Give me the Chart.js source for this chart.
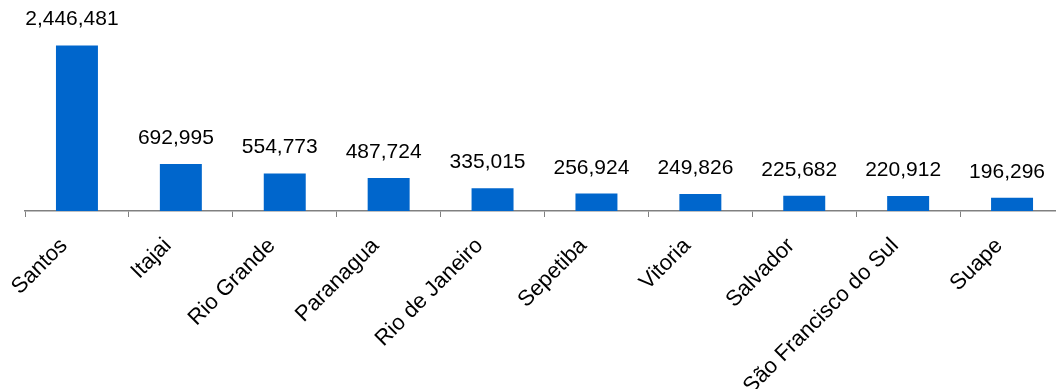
<!DOCTYPE html>
<html>
<head>
<meta charset="utf-8">
<script src="https://cdn.jsdelivr.net/npm/chart.js@4/dist/chart.umd.min.js"></script>
<style>
    html, body { margin: 0; padding: 0; background: #fff; overflow: hidden; }
    #wrap { position: absolute; left: 0; top: 0; width: 1072px; height: 389px; }
</style>
</head>
<body>
<div id="wrap"><canvas id="bar_chart"></canvas></div>
<script>
var ports = ["Santos", "Itajai", "Rio Grande", "Paranagua", "Rio de Janeiro", "Sepetiba", "Vitoria", "Salvador", "São Francisco do Sul", "Suape"];
var containers = [2446481, 692995, 554773, 487724, 335015, 256924, 249826, 225682, 220912, 196296];

var FONT = "Liberation Sans, Arial, sans-serif";

// prints the value above each bar
var valueLabels = {
    id: 'valueLabels',
    afterDatasetsDraw: function (chart) {
        var ctx = chart.ctx;
        var meta = chart.getDatasetMeta(0);
        ctx.save();
        ctx.font = "21px " + FONT;
        ctx.fillStyle = '#000';
        ctx.textAlign = 'center';
        ctx.textBaseline = 'alphabetic';
        meta.data.forEach(function (bar, i) {
            ctx.fillText(containers[i].toLocaleString('en-US'), bar.x - 5, bar.y - 20);
        });
        ctx.restore();
    }
};

new Chart(document.getElementById("bar_chart").getContext("2d"), {
    type: 'bar',
    data: {
        labels: ports,
        datasets: [{
            label: "Containers",
            data: containers,
            backgroundColor: '#0066CC',
            categoryPercentage: 1,
            barPercentage: 0.404
        }]
    },
    options: {
        responsive: true,
        maintainAspectRatio: false,
        animation: false,
        layout: { padding: { left: 25, right: 8, top: 8, bottom: 0 } },
        plugins: { legend: { display: false }, tooltip: { enabled: false } },
        scales: {
            x: {
                offset: true,
                grid: { display: true, drawOnChartArea: false, drawTicks: true, tickLength: 6, color: '#808080', lineWidth: 1 },
                border: { display: true, color: '#808080', width: 1.5 },
                ticks: {
                    autoSkip: false,
                    maxRotation: 45,
                    minRotation: 45,
                    padding: 16,
                    labelOffset: -13,
                    color: '#000',
                    font: { family: FONT, size: 22 }
                },
                afterFit: function (scale) {
                    scale.height = 178;
                    scale.paddingLeft = 0;
                    scale.paddingRight = 0;
                }
            },
            y: {
                display: false,
                min: 0,
                max: 3000000
            }
        }
    },
    plugins: [valueLabels]
});
</script>
</body>
</html>
